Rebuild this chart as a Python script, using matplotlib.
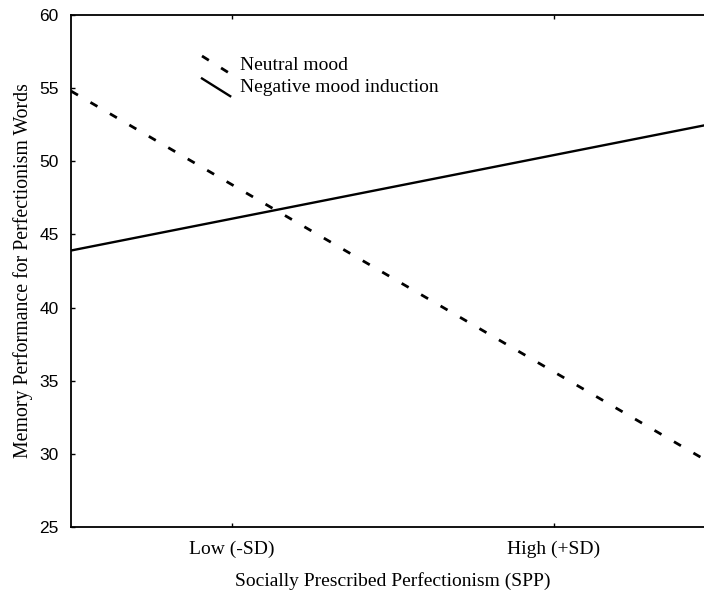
import matplotlib
matplotlib.use('Agg')
import matplotlib.pyplot as plt
from matplotlib.lines import Line2D
from matplotlib.legend_handler import HandlerLine2D

# Dados
x_cat = [0, 1]
x_labels = ['Low (-SD)', 'High (+SD)']
x_ends = [-0.5, 1.5]
neutral = [54.8, 29.2]
negative = [43.9, 52.6]
y_ticks = [25, 30, 35, 40, 45, 50, 55, 60]


class HandlerDiag(HandlerLine2D):
    # legenda com traço diagonal, como no original
    def create_artists(self, legend, orig_handle, xdescent, ydescent,
                       width, height, fontsize, trans):
        ln = Line2D([-xdescent, width - xdescent],
                    [1.0 * height - ydescent, -0.3 * height - ydescent])
        self.update_prop(ln, orig_handle, legend)
        ln.set_transform(trans)
        return [ln]


plt.rcParams['font.family'] = 'Liberation Serif'

W, H = 704, 590
fig = plt.figure(figsize=(W / 100, H / 100), dpi=100)
ax = fig.add_axes([71 / W, (H - 527) / H, (715 - 71) / W, (527 - 15) / H])

l1, = ax.plot(x_ends, neutral, color='black', lw=2.0, dashes=(2.9, 5.2),
              solid_capstyle='butt', label='Neutral mood')
l2, = ax.plot(x_ends, negative, color='black', lw=1.7, label='Negative mood induction')

ax.set_xlim(-0.5, 1.5)
ax.set_ylim(25, 60)
ax.set_xticks(x_cat)
ax.set_xticklabels(x_labels, fontsize=14)
ax.set_yticks(y_ticks)
ax.set_yticklabels([str(v) for v in y_ticks], fontsize=12.5, family='Liberation Sans')
ax.tick_params(axis='x', direction='in', length=3, width=1, top=True, pad=10)
ax.tick_params(axis='y', direction='in', length=3, width=1, pad=9)
for s in ax.spines.values():
    s.set_linewidth(1.3)
ax.spines['right'].set_visible(False)

ax.set_xlabel('Socially Prescribed Perfectionism (SPP)', fontsize=14, labelpad=10)
ax.set_ylabel('Memory Performance for Perfectionism Words', fontsize=14.3, labelpad=4)

leg = ax.legend(handles=[l1, l2], handler_map={Line2D: HandlerDiag()},
                loc='upper left', bbox_to_anchor=(202 / W, 1 - 56 / H),
                bbox_transform=fig.transFigure, frameon=False, fontsize=14,
                handlelength=1.45, handletextpad=0.5, labelspacing=0.25,
                borderpad=0, borderaxespad=0)

fig.savefig('out.png', dpi=100)
